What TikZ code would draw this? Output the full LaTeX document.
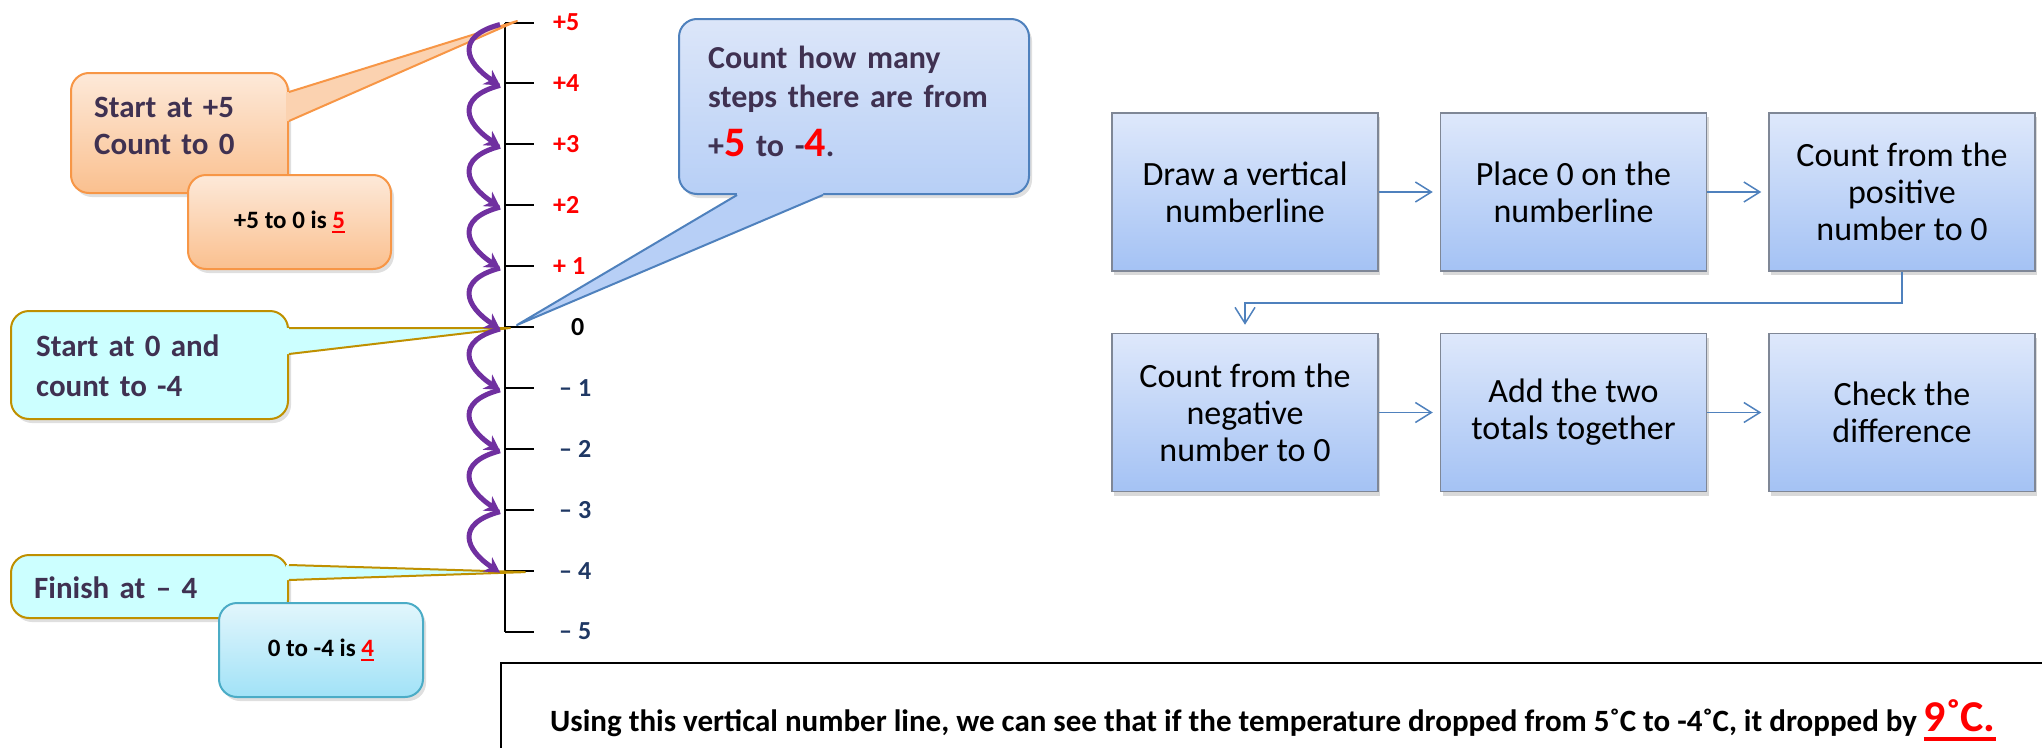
\documentclass[tikz,border=0pt]{standalone}
\usepackage{fontspec}
\setmainfont{Carlito}
\usetikzlibrary{arrows.meta,positioning,shadows}
\definecolor{calldark}{HTML}{3F3151}
\definecolor{orgtop}{HTML}{FDE9D9}
\definecolor{orgbot}{HTML}{FAC08F}
\definecolor{orgline}{HTML}{F79646}
\definecolor{cyanfill}{HTML}{CCFFFF}
\definecolor{goldline}{HTML}{BF9000}
\definecolor{bluetop}{HTML}{DCE6F9}
\definecolor{bluebot}{HTML}{B7CFF6}
\definecolor{blueline}{HTML}{4F81BD}
\definecolor{aquatop}{HTML}{E2F6FC}
\definecolor{aquabot}{HTML}{A1E2F7}
\definecolor{aqualine}{HTML}{4BACC6}
\definecolor{hopcol}{HTML}{7030A0}
\definecolor{navy}{HTML}{1F3864}
\definecolor{flowtop}{HTML}{DEE8FB}
\definecolor{flowbot}{HTML}{A4C2F4}
\definecolor{flowline}{HTML}{7F8796}
\newcommand{\fsz}[2]{\fontsize{#1}{#2}\selectfont}
\newcommand{\ulred}[3]{\leavevmode\setbox0\hbox{#3}\rlap{\color{red}\rule[-#2]{\wd0}{#1}}\box0}

\begin{document}
\begin{tikzpicture}[x=1pt, y=-1pt,
  node distance=61pt and 61pt,
  stepbox/.style={draw=flowline, line width=1.5pt, top color=flowtop, bottom color=flowbot,
              minimum width=266pt, minimum height=158pt, align=center, font=\fsz{34}{37},
              drop shadow={shadow xshift=2pt, shadow yshift=-4pt, opacity=.3}},
  flowarr/.style={draw=blueline, line width=1.5pt, -{Straight Barb[length=16pt,width=20pt]},
              shorten >=7pt},
  callbox/.style={rounded corners=18pt, line width=2pt, inner sep=0pt, anchor=north west,
              drop shadow={shadow xshift=3pt, shadow yshift=-4pt, opacity=.25}},
  orgbox/.style={callbox, draw=orgline, top color=orgtop, bottom color=orgbot},
  cyanbox/.style={callbox, draw=goldline, fill=cyanfill},
  bluebox/.style={callbox, draw=blueline, top color=bluetop, bottom color=bluebot},
  aquabox/.style={callbox, draw=aqualine, top color=aquatop, bottom color=aquabot},
  calltxt/.style={font=\bfseries\fsz{31}{37}, text=calldark, align=left, inner sep=0pt,
              anchor=base west, text width=#1},
  restxt/.style={font=\bfseries\fsz{25}{30}},
  wedge/.style={line width=2pt, line join=round},
  hop/.style={draw=hopcol, line width=5pt, -{Stealth[length=15pt,width=17pt]}},
  poslab/.style={font=\bfseries\fsz{26}{30}, text=red, anchor=west, inner sep=0pt},
  neglab/.style={font=\bfseries\fsz{26}{30}, text=navy, anchor=west, inner sep=0pt}
]
\useasboundingbox (0,0) rectangle (2042,747);

% number line
\foreach \k in {5,...,-5}
  \coordinate (n\k) at (505,{327-60.9*\k});
\draw[line width=2pt] (n5) -- (n-5);
\foreach \k in {5,...,-5}
  \draw[line width=2pt] (n\k) -- ++(29,0);

% callouts on the left
\node[orgbox, minimum width=217pt, minimum height=120pt] (startpos) at (70,72) {};
\fill[orgtop!45!orgbot] ([shift={(-3pt,-20pt)}]startpos.north east) -- ([yshift=-20pt]startpos.north east)
  -- ([shift={(12pt,1.5pt)}]n5) -- ([yshift=-49pt]startpos.north east)
  -- ([shift={(-3pt,-49pt)}]startpos.north east) -- cycle;
\draw[wedge, orgline] ([yshift=-20pt]startpos.north east) -- ([shift={(12pt,1.5pt)}]n5)
  -- ([yshift=-49pt]startpos.north east);
\node[calltxt=180pt] (startpostxt) at (94,117) {Start at +5\\Count to 0};
\node[orgbox, minimum width=203pt, minimum height=94pt, restxt] (posres) at (187,174)
  {+5 to 0 is \ulred{2pt}{5pt}{\color{red}5}};

\node[cyanbox, minimum width=277pt, minimum height=108pt] (startzero) at (10,310) {};
\fill[cyanfill] ([shift={(-3pt,-18pt)}]startzero.north east) -- ([yshift=-18pt]startzero.north east)
  -- ([shift={(5pt,-1pt)}]n0) -- ([yshift=-44pt]startzero.north east)
  -- ([shift={(-3pt,-44pt)}]startzero.north east) -- cycle;
\draw[wedge, goldline] ([yshift=-18pt]startzero.north east) -- ([shift={(5pt,-1pt)}]n0)
  -- ([yshift=-44pt]startzero.north east);
\node[calltxt=200pt, font=\bfseries\fsz{31}{40}] (startzerotxt) at (36,356) {Start at 0 and\\count to -4};

\node[cyanbox, minimum width=277pt, minimum height=63pt] (finish) at (10,554) {};
\fill[cyanfill] ([shift={(-3pt,-11pt)}]finish.north east) -- ([yshift=-11pt]finish.north east)
  -- ([shift={(20pt,-1.5pt)}]n-4) -- ([yshift=-26pt]finish.north east)
  -- ([shift={(-3pt,-26pt)}]finish.north east) -- cycle;
\draw[wedge, goldline] ([yshift=-11pt]finish.north east) -- ([shift={(20pt,-1.5pt)}]n-4)
  -- ([yshift=-26pt]finish.north east);
\node[calltxt=200pt] (finishtxt) at (34,598) {Finish at – 4};
\node[aquabox, minimum width=204pt, minimum height=94pt, restxt] (negres) at (218,602)
  {0 to -4 is \ulred{2pt}{5pt}{\color{red}4}};

% callout on the right of the line
\node[bluebox, minimum width=350pt, minimum height=175pt] (question) at (678,18) {};
\fill[bluebot] ([shift={(59pt,3pt)}]question.south west) -- ([xshift=59pt]question.south west)
  -- ([shift={(12pt,2pt)}]n0) -- ([xshift=145pt]question.south west)
  -- ([shift={(145pt,3pt)}]question.south west) -- cycle;
\draw[wedge, blueline] ([xshift=59pt]question.south west) -- ([shift={(12pt,2pt)}]n0)
  -- ([xshift=145pt]question.south west);
\node[calltxt=330pt, font=\bfseries\fsz{32}{39}] (questiontxt) at (708,68)
  {Count how many\\steps there are from\\[10pt]+{\color{red}\fsz{42}{46}5} to -{\color{red}\fsz{42}{46}4}.};

% hops down the line
\foreach \k [evaluate=\k as \j using int(\k-1)] in {5,...,-3}
  \draw[hop] ([shift={(-5pt,-2pt)}]n\k) .. controls +(-45,12) and +(-35,-23) .. ([shift={(-5pt,-2pt)}]n\j);

% labels
\foreach \k/\t in {5/+5,4/+4,3/+3,2/+2,1/+ 1}
  \node[poslab] (p\k) at ([xshift=48pt]n\k) {\t};
\node[poslab, text=black] (z0) at ([xshift=66pt]n0) {0};
\foreach \k in {1,...,5}
  \node[neglab] (m\k) at ([xshift=54pt]n-\k) {– \k};

% steps
\node[stepbox] (vline) at (1245,192) {Draw a vertical\\numberline};
\node[stepbox, right=of vline] (placezero) {Place 0 on the\\numberline};
\node[stepbox, right=of placezero] (countpos) {Count from the\\positive\\number to 0};
\node[stepbox, below=of vline] (countneg) {Count from the\\negative\\number to 0};
\node[stepbox, right=of countneg] (addtot) {Add the two\\totals together};
\node[stepbox, right=of addtot] (checkdiff) {Check the\\difference};
\draw[flowarr] (vline) -- (placezero);
\draw[flowarr] (placezero) -- (countpos);
\draw[flowarr, shorten >=8pt] (countpos.south) -- ++(0,31) -| (countneg.north);
\draw[flowarr] (countneg) -- (addtot);
\draw[flowarr] (addtot) -- (checkdiff);

% conclusion
\node[draw, line width=1.5pt, minimum width=1600pt, minimum height=120pt, anchor=north west,
  inner sep=0pt] (conclbox) at (500,662) {};
\node[anchor=base west, inner sep=0pt, font=\bfseries\fsz{31}{36}] (concl) at (550,731)
  {Using this vertical number line, we can see that if the temperature dropped from 5˚C to -4˚C, it dropped by \ulred{4pt}{10pt}{\color{red}\fsz{44}{48}9˚C.}};
\end{tikzpicture}
\end{document}
